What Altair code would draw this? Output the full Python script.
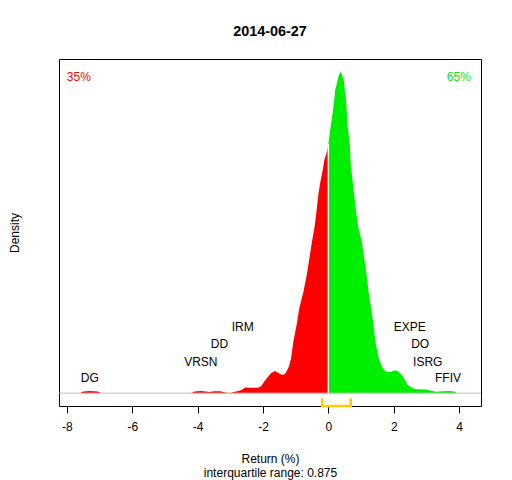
import altair as alt
import pandas as pd

# ---- data ----
ret = [-7.60, -7.50, -7.30, -7.05, -6.95, -4.20, -4.10, -3.90, -3.75, -3.62,
       -3.50, -3.30, -3.15, -3.00, -2.90, -2.75, -2.62, -2.55, -2.40, -2.15,
       -2.05, -1.95, -1.85, -1.75, -1.63, -1.50, -1.40, -1.33, -1.27, -1.20,
       -1.14, -1.07, -0.97, -0.89, -0.76, -0.66, -0.58, -0.50, -0.42, -0.38,
       -0.34, -0.30, -0.25, -0.17, -0.12, -0.04, 0.00, 0.05, 0.10, 0.15,
       0.19, 0.21, 0.25, 0.31, 0.34, 0.37, 0.42, 0.48, 0.51, 0.54,
       0.56, 0.59, 0.63, 0.66, 0.69, 0.72, 0.75, 0.78, 0.83, 0.87,
       0.91, 1.02, 1.10, 1.17, 1.23, 1.31, 1.38, 1.44, 1.54, 1.66,
       1.76, 1.90, 2.05, 2.15, 2.27, 2.43, 2.58, 2.70, 3.00, 3.10,
       3.30, 3.50, 3.70, 3.85, 3.95]
dens = [0, 0.003, 0.004, 0.003, 0, 0, 0.003, 0.004, 0.003, 0.002,
        0.0035, 0.0035, 0.0013, 0.0004, 0.002, 0.004, 0.007, 0.0107, 0.0101, 0.0103,
        0.0135, 0.0228, 0.0303, 0.0378, 0.0415, 0.0368, 0.034, 0.0359, 0.0415, 0.0508,
        0.0652, 0.0963, 0.1275, 0.1587, 0.1897, 0.2209, 0.2521, 0.2832, 0.3112, 0.330,
        0.3517, 0.3736, 0.3923, 0.4172, 0.4358, 0.4514, 0.465, 0.4887, 0.5106, 0.5325,
        0.5541, 0.5667, 0.576, 0.5915, 0.5966, 0.600, 0.5947, 0.5822, 0.5605, 0.548,
        0.5293, 0.498, 0.4794, 0.4607, 0.4233, 0.4078, 0.3923, 0.3766, 0.3486, 0.3299,
        0.3112, 0.2832, 0.2521, 0.2209, 0.1897, 0.1587, 0.1275, 0.0963, 0.0652, 0.0465,
        0.0402, 0.0396, 0.0428, 0.0406, 0.0321, 0.0153, 0.0092, 0.0073, 0.0069, 0.005,
        0.0026, 0.0037, 0.0041, 0.0032, 0]

tickers = ["DG", "VRSN", "DD", "IRM", "EXPE", "DO", "ISRG", "FFIV"]
ticker_ret = [-7.30, -3.90, -3.33, -2.62, 2.49, 2.81, 3.04, 3.66]
ticker_y = [0.029, 0.059, 0.092, 0.123, 0.123, 0.092, 0.059, 0.029]

q1, q3 = -0.19, 0.685
bracket_top = -0.0095
xdom = [-8.24, 4.67]
ydom = [-0.024, 0.624]
xticks = [-8, -6, -4, -2, 0, 2, 4]

title_txt = "2014-06-27"
pct_txt = ["35%", "65%"]
pct_ret = [-8.0, 4.36]
pct_y = [0.5905, 0.5905]
xlab = ["Return (%)", "interquartile range: 0.875"]
ylab = "Density"

FONT = "Liberation Sans"
RED = "#FF0000"
GREEN = "#00EE00"
GOLD = "#FFCC00"

df = pd.DataFrame({"ret": ret, "dens": dens})
lab_df = pd.DataFrame({"ret": ticker_ret, "dens": ticker_y, "name": tickers})
br_df = pd.DataFrame({"ret": [q1, q1, q3, q3],
                      "dens": [bracket_top, ydom[0], ydom[0], bracket_top],
                      "o": [0, 1, 2, 3]})
neg_df = pd.DataFrame({"ret": [pct_ret[0]], "dens": [pct_y[0]], "t": [pct_txt[0]]})
pos_df = pd.DataFrame({"ret": [pct_ret[1]], "dens": [pct_y[1]], "t": [pct_txt[1]]})

xsc = alt.Scale(domain=xdom, nice=False, zero=False)
ysc = alt.Scale(domain=ydom, nice=False, zero=False)

X = alt.X("ret:Q", scale=xsc,
          axis=alt.Axis(values=xticks, tickSize=7, tickColor="black", domain=False,
                        grid=False, labelFontSize=12, labelColor="black", labelFont=FONT,
                        labelPadding=8, labelExpr="toString(datum.value)",
                        title=xlab, titleFont=FONT, titleFontSize=12, titleFontWeight="normal",
                        titleColor="black", titleLineHeight=14, titleBaseline="alphabetic",
                        titleY=56))
Y = alt.Y("dens:Q", scale=ysc, stack=None,
          axis=alt.Axis(ticks=False, labels=False, domain=False, grid=False,
                        title=ylab, titleFont=FONT, titleFontSize=12, titleFontWeight="normal",
                        titleColor="black", titleBaseline="alphabetic", titleAngle=270,
                        titleX=-41, titleY=173.5, titleAlign="center"))

base = alt.Chart(df).transform_calculate(base0="0")
red = base.transform_filter("datum.ret <= 0").mark_area(color=RED, opacity=1).encode(
    x=X, y=Y, y2="base0:Q")
green = base.transform_filter("datum.ret >= 0").mark_area(color=GREEN, opacity=1).encode(
    x=X, y=Y, y2="base0:Q")
split = base.transform_filter("datum.ret == 0").mark_rule(color="white", strokeWidth=1.5).encode(
    x=X, y=Y, y2="base0:Q")

zero_line = alt.Chart(pd.DataFrame({"dens": [0]})).mark_rule(color="#BEBEBE", strokeWidth=1).encode(
    y=Y)

labels = alt.Chart(lab_df).mark_text(font=FONT, fontSize=12, color="black",
                                     align="center", baseline="middle").encode(
    x=X, y=Y, text="name:N")

bracket = alt.Chart(br_df).mark_line(color=GOLD, strokeWidth=2.5).encode(
    x=X, y=Y, order="o:Q")

neg = alt.Chart(neg_df).mark_text(font=FONT, fontSize=12, color=RED, align="left",
                                  baseline="middle").encode(x=X, y=Y, text="t:N")
pos = alt.Chart(pos_df).mark_text(font=FONT, fontSize=12, color=GREEN, align="right",
                                  baseline="middle").encode(x=X, y=Y, text="t:N")

chart = alt.layer(red, green, split, zero_line, labels, bracket, neg, pos).properties(
    width=422, height=347, autosize="none",
    padding={"left": 51, "top": 51, "right": 20, "bottom": 78},
    background="white",
    title=alt.TitleParams(title_txt, font=FONT, fontSize=14.4, fontWeight="bold",
                          color="black", anchor="middle", baseline="alphabetic", offset=9)
).configure_view(stroke="black", strokeWidth=1)

chart.save("out.html", embed_options={"renderer": "svg", "actions": False})
